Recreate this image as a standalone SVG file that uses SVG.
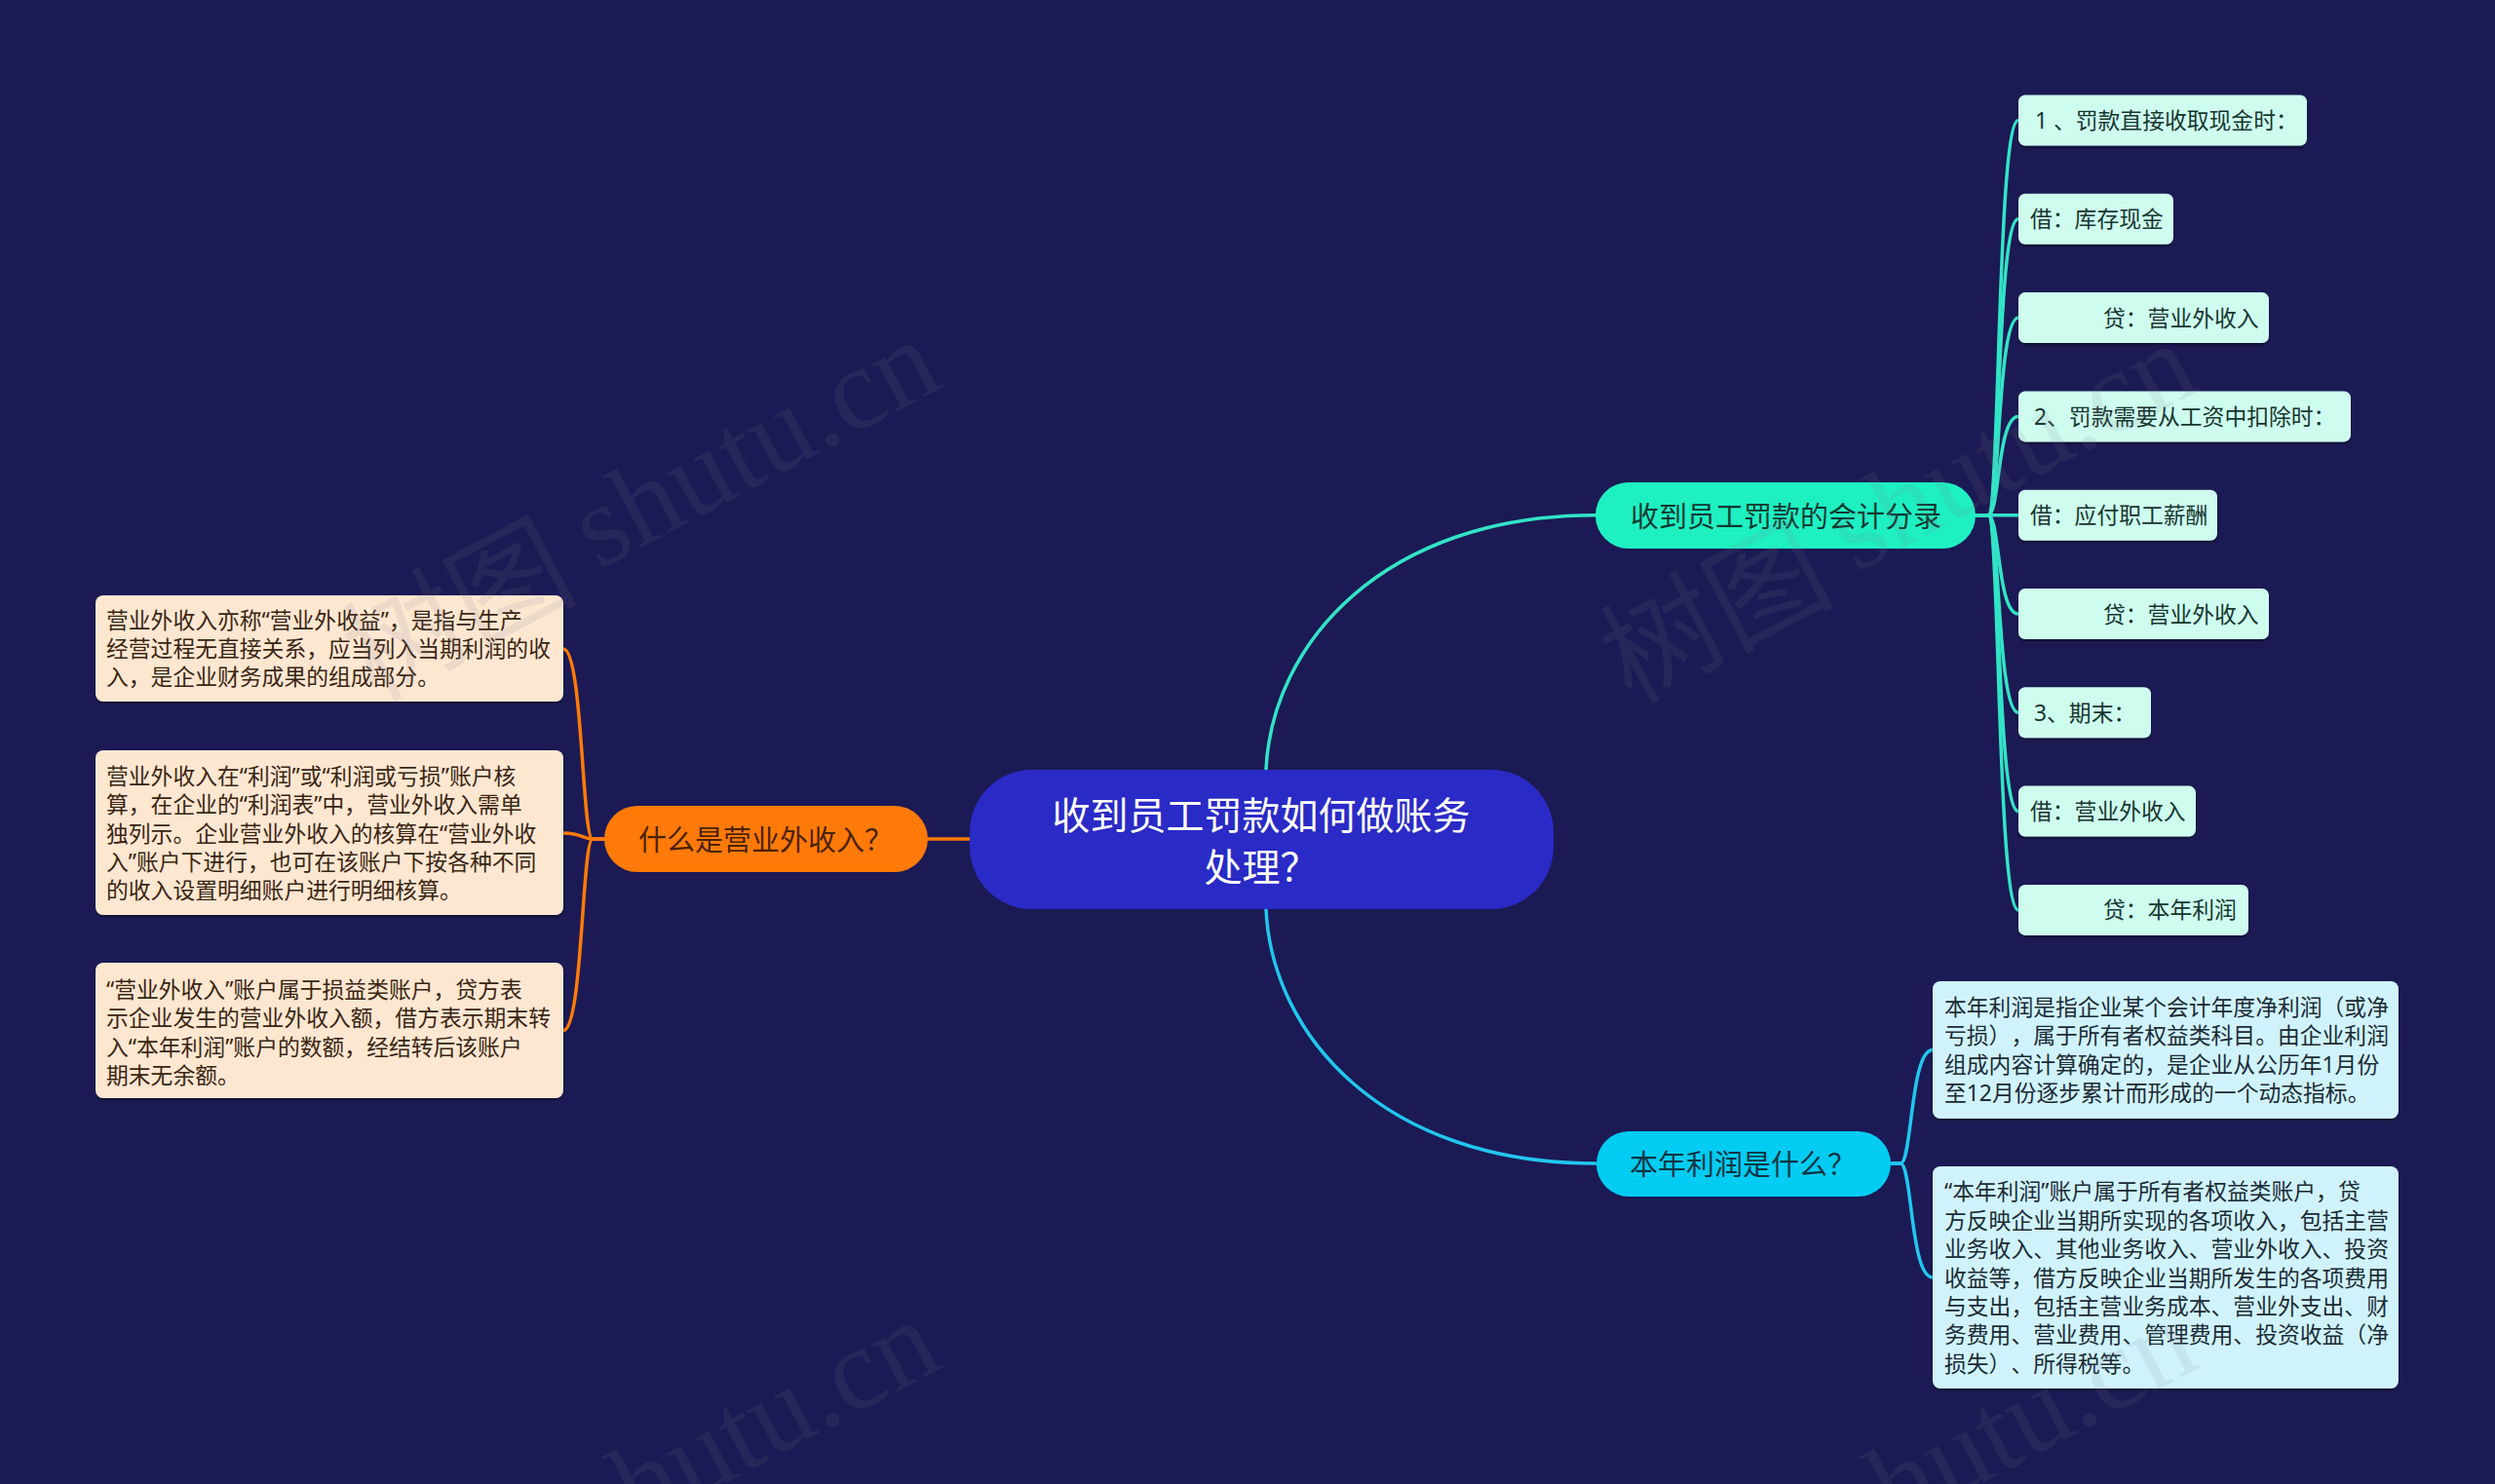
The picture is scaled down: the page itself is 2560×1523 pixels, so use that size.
<svg xmlns="http://www.w3.org/2000/svg" width="2560" height="1523" viewBox="0 0 2560 1523">
<defs>
<style>
text{font-family:"Noto Sans","Noto Sans CJK SC",sans-serif;dominant-baseline:central;text-spacing-trim:space-all}
.bg{fill:#1b1a54}
.conn path{fill:none;stroke-width:3.5;stroke-linecap:round}
.g{stroke:#32e4c6}
.b{stroke:#22c6ee}
.o{stroke:#ff7a08}
.leafG rect{fill:#cefcef;filter:url(#sh)}
.leafG text{fill:#17362f;font-size:22.8px}
.leafB rect{fill:#d0f3fb;filter:url(#sh)}
.leafB text{fill:#1b2b36;font-size:22.8px}
.leafO rect{fill:#fde7d1;filter:url(#sh)}
.leafO text{fill:#3a2512;font-size:22.8px}
.main text{font-size:29px}
.wm text{fill:#7c7c92;opacity:0.12;font-size:120px;font-family:"Noto Sans CJK SC",sans-serif}
.wm tspan.l{font-family:"Liberation Serif",serif}
</style>
<filter id="sh" x="-5%" y="-10%" width="110%" height="130%">
<feDropShadow dx="0" dy="2" stdDeviation="1.2" flood-color="#000000" flood-opacity="0.4"/>
</filter>
</defs>
<rect class="bg" x="0" y="0" width="2560" height="1523"/>

<g id="connectors" class="conn">
<path class="o" d="M952,861 L996,861"/>
<path class="g" d="M1299,790 C1305,660 1420,528.7 1637,528.7"/>
<path class="b" d="M1299,933 C1305,1063 1420,1194 1637,1194"/>
<path class="o" d="M620,861 L608,861 C597,861 598,666 578,666"/>
<path class="o" d="M620,861 L608,861 C597,861 598,855 578,855"/>
<path class="o" d="M620,861 L608,861 C597,861 598,1057.5 578,1057.5"/>
<path class="g" d="M2027,528.7 L2040,528.7 C2052,528.7 2049,123.5 2071,123.5"/>
<path class="g" d="M2027,528.7 L2040,528.7 C2052,528.7 2049,224.8 2071,224.8"/>
<path class="g" d="M2027,528.7 L2040,528.7 C2052,528.7 2049,326.1 2071,326.1"/>
<path class="g" d="M2027,528.7 L2040,528.7 C2052,528.7 2049,427.4 2071,427.4"/>
<path class="g" d="M2027,528.7 L2071,528.7"/>
<path class="g" d="M2027,528.7 L2040,528.7 C2052,528.7 2049,630 2071,630"/>
<path class="g" d="M2027,528.7 L2040,528.7 C2052,528.7 2049,731.3 2071,731.3"/>
<path class="g" d="M2027,528.7 L2040,528.7 C2052,528.7 2049,832.6 2071,832.6"/>
<path class="g" d="M2027,528.7 L2040,528.7 C2052,528.7 2049,933.9 2071,933.9"/>
<path class="b" d="M1940,1194 L1950,1194 C1962,1194 1960,1077.5 1983,1077.5"/>
<path class="b" d="M1940,1194 L1950,1194 C1962,1194 1960,1311 1983,1311"/>
</g>

<g id="center">
<rect x="995" y="790" width="599" height="143" rx="64" fill="#2a2ac6"/>
<text x="1294" y="835" text-anchor="middle" fill="#ffffff" font-size="39">收到员工罚款如何做账务</text>
<text x="1294" y="888" text-anchor="middle" fill="#ffffff" font-size="39">处理？</text>
</g>

<g id="topic-orange" class="main">
<rect x="620" y="827" width="332" height="68" rx="34" fill="#ff7a08"/>
<text x="655" y="861" fill="#4a2204">什么是营业外收入？</text>
</g>

<g id="topic-green" class="main">
<rect x="1637" y="495" width="390" height="68" rx="34" fill="#1ef0c2"/>
<text x="1673" y="529" fill="#123a31">收到员工罚款的会计分录</text>
</g>

<g id="topic-blue" class="main">
<rect x="1638" y="1161" width="302" height="67" rx="33.5" fill="#02ccf2"/>
<text x="1672" y="1194" fill="#0d3442">本年利润是什么？</text>
</g>

<g id="leaf-g1" class="leafG"><rect x="2071" y="97.5" width="296" height="52" rx="7"/><text x="2088" y="123.5">1 、罚款直接收取现金时：</text></g>
<g id="leaf-g2" class="leafG"><rect x="2071" y="198.8" width="159" height="52" rx="7"/><text x="2083" y="224.8">借：库存现金</text></g>
<g id="leaf-g3" class="leafG"><rect x="2071" y="300.1" width="257" height="52" rx="7"/><text x="2158" y="326.1">贷：营业外收入</text></g>
<g id="leaf-g4" class="leafG"><rect x="2071" y="401.4" width="341" height="52" rx="7"/><text x="2087" y="427.4">2、罚款需要从工资中扣除时：</text></g>
<g id="leaf-g5" class="leafG"><rect x="2071" y="502.7" width="204" height="52" rx="7"/><text x="2083" y="528.7">借：应付职工薪酬</text></g>
<g id="leaf-g6" class="leafG"><rect x="2071" y="604" width="257" height="52" rx="7"/><text x="2158" y="630">贷：营业外收入</text></g>
<g id="leaf-g7" class="leafG"><rect x="2071" y="705.3" width="136" height="52" rx="7"/><text x="2087" y="731.3">3、期末：</text></g>
<g id="leaf-g8" class="leafG"><rect x="2071" y="806.6" width="182" height="52" rx="7"/><text x="2083" y="832.6">借：营业外收入</text></g>
<g id="leaf-g9" class="leafG"><rect x="2071" y="907.9" width="236" height="52" rx="7"/><text x="2158" y="933.9">贷：本年利润</text></g>

<g id="leaf-o1" class="leafO">
<rect x="98" y="611" width="480" height="109" rx="8"/>
<text x="109" y="636">营业外收入亦称“营业外收益”，是指与生产</text>
<text x="109" y="665.4">经营过程无直接关系，应当列入当期利润的收</text>
<text x="109" y="694.8">入，是企业财务成果的组成部分。</text>
</g>
<g id="leaf-o2" class="leafO">
<rect x="98" y="770" width="480" height="169" rx="8"/>
<text x="109" y="796.2">营业外收入在“利润”或“利润或亏损”账户核</text>
<text x="109" y="825.6">算，在企业的“利润表”中，营业外收入需单</text>
<text x="109" y="855">独列示。企业营业外收入的核算在“营业外收</text>
<text x="109" y="884.4">入”账户下进行，也可在该账户下按各种不同</text>
<text x="109" y="913.8">的收入设置明细账户进行明细核算。</text>
</g>
<g id="leaf-o3" class="leafO">
<rect x="98" y="988" width="480" height="139" rx="8"/>
<text x="109" y="1015.4">“营业外收入”账户属于损益类账户，贷方表</text>
<text x="109" y="1044.8">示企业发生的营业外收入额，借方表示期末转</text>
<text x="109" y="1074.2">入“本年利润”账户的数额，经结转后该账户</text>
<text x="109" y="1103.6">期末无余额。</text>
</g>

<g id="leaf-b1" class="leafB">
<rect x="1983" y="1007" width="478" height="141" rx="8"/>
<text x="1995" y="1033.4">本年利润是指企业某个会计年度净利润（或净</text>
<text x="1995" y="1062.8">亏损），属于所有者权益类科目。由企业利润</text>
<text x="1995" y="1092.2">组成内容计算确定的，是企业从公历年1月份</text>
<text x="1995" y="1121.6">至12月份逐步累计而形成的一个动态指标。</text>
</g>
<g id="leaf-b2" class="leafB">
<rect x="1983" y="1197" width="478" height="228" rx="8"/>
<text x="1995" y="1222.8">“本年利润”账户属于所有者权益类账户，贷</text>
<text x="1995" y="1252.2">方反映企业当期所实现的各项收入，包括主营</text>
<text x="1995" y="1281.6">业务收入、其他业务收入、营业外收入、投资</text>
<text x="1995" y="1311">收益等，借方反映企业当期所发生的各项费用</text>
<text x="1995" y="1340.4">与支出，包括主营业务成本、营业外支出、财</text>
<text x="1995" y="1369.8">务费用、营业费用、管理费用、投资收益（净</text>
<text x="1995" y="1399.2">损失）、所得税等。</text>
</g>

<g id="watermarks" class="wm">
<text x="655" y="517" text-anchor="middle" transform="rotate(-28 655 517)">树图 <tspan class="l">shutu.cn</tspan></text>
<text x="1945" y="520" text-anchor="middle" transform="rotate(-28 1945 520)">树图 <tspan class="l">shutu.cn</tspan></text>
<text x="655" y="1523" text-anchor="middle" transform="rotate(-28 655 1523)">树图 <tspan class="l">shutu.cn</tspan></text>
<text x="1945" y="1523" text-anchor="middle" transform="rotate(-28 1945 1523)">树图 <tspan class="l">shutu.cn</tspan></text>
</g>
</svg>
